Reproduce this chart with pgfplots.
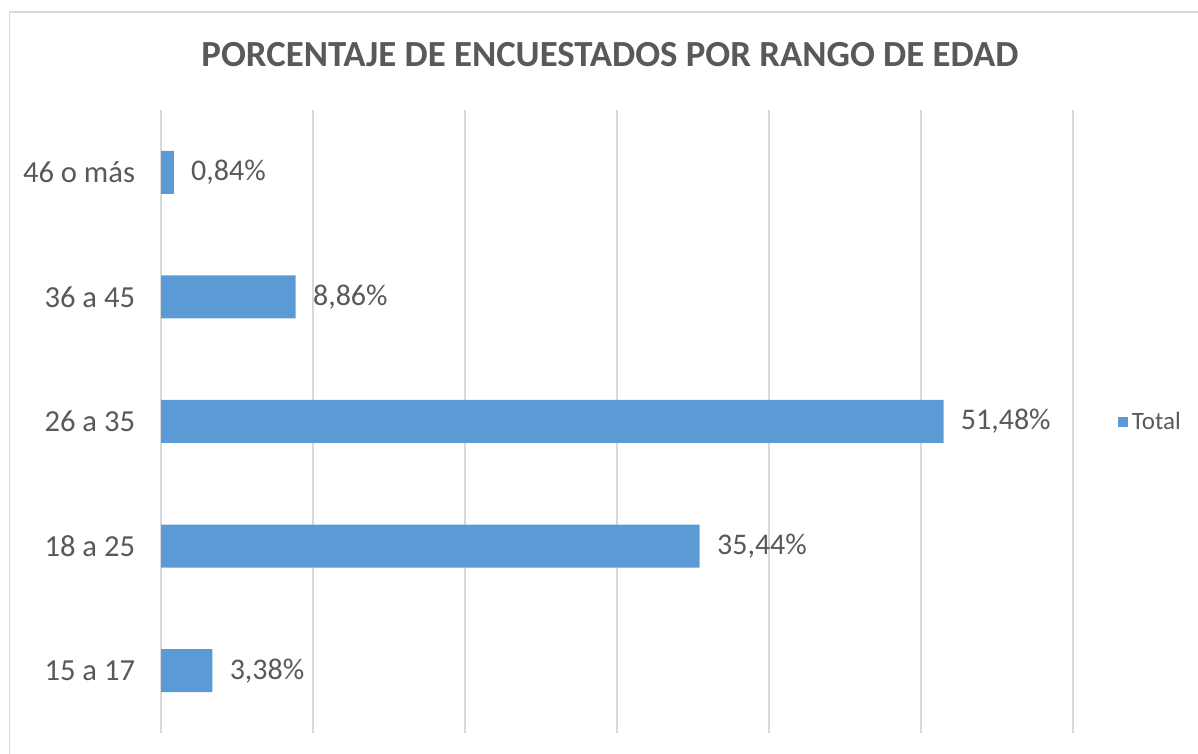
\documentclass[border=0pt]{standalone}
\usepackage{fontspec}
\setmainfont{Carlito}
\usepackage{pgfplots}
\pgfplotsset{compat=1.18}
\definecolor{barblue}{HTML}{5B9BD5}
\definecolor{txtgray}{HTML}{595959}
\definecolor{gridgray}{HTML}{D9D9D9}
\begin{document}
\begin{tikzpicture}
\path[use as bounding box] (0,0) rectangle (599pt,377pt);
\draw[gridgray,line width=0.8pt] (4.75pt,-1pt) -- (4.75pt,371pt) -- (600pt,371pt);
\node[font=\fontsize{18.4}{22}\selectfont\bfseries, text=txtgray] at (305pt,349.5pt) {PORCENTAJE DE ENCUESTADOS POR RANGO DE EDAD};
\begin{axis}[
  at={(80.5pt,10.5pt)}, anchor=south west,
  scale only axis, width=456pt, height=311.5pt,
  xbar, bar width=21.5pt,
  xmin=0, xmax=60, ymin=0.5, ymax=5.5,
  xtick={0,10,...,60}, xticklabels={},
  xmajorgrids, grid style={gridgray, line width=0.8pt},
  ytick={1,2,3,4,5},
  yticklabels={15 a 17,18 a 25,26 a 35,36 a 45,46 o más},
  yticklabel style={font=\fontsize{15.3}{17}\selectfont, text=txtgray, inner sep=0pt, xshift=-8.5pt},
  major tick style={draw=none},
  axis line style={draw=none},
  point meta=x,
  /pgf/number format/assume math mode=true,
  nodes near coords={\pgfmathprintnumber[fixed,precision=2,fixed zerofill,use comma]{\pgfplotspointmeta}\%},
  nodes near coords style={font=\fontsize{15}{17}\selectfont, text=txtgray, anchor=west, inner sep=0pt, xshift=8.5pt},
  legend style={at={(1.086,0.499)}, anchor=center, draw=none, fill=none, font=\fontsize{12.5}{14}\selectfont, text=txtgray, inner sep=0pt},
  legend image code/.code={\fill[barblue] (0pt,-2.5pt) rectangle (5pt,2.5pt);},
]
\addplot[fill=barblue, draw=none] coordinates {(3.38,1) (35.44,2) (51.48,3) (8.86,4) (0.84,5)};
\addlegendentry{Total}
\end{axis}
\end{tikzpicture}
\end{document}
